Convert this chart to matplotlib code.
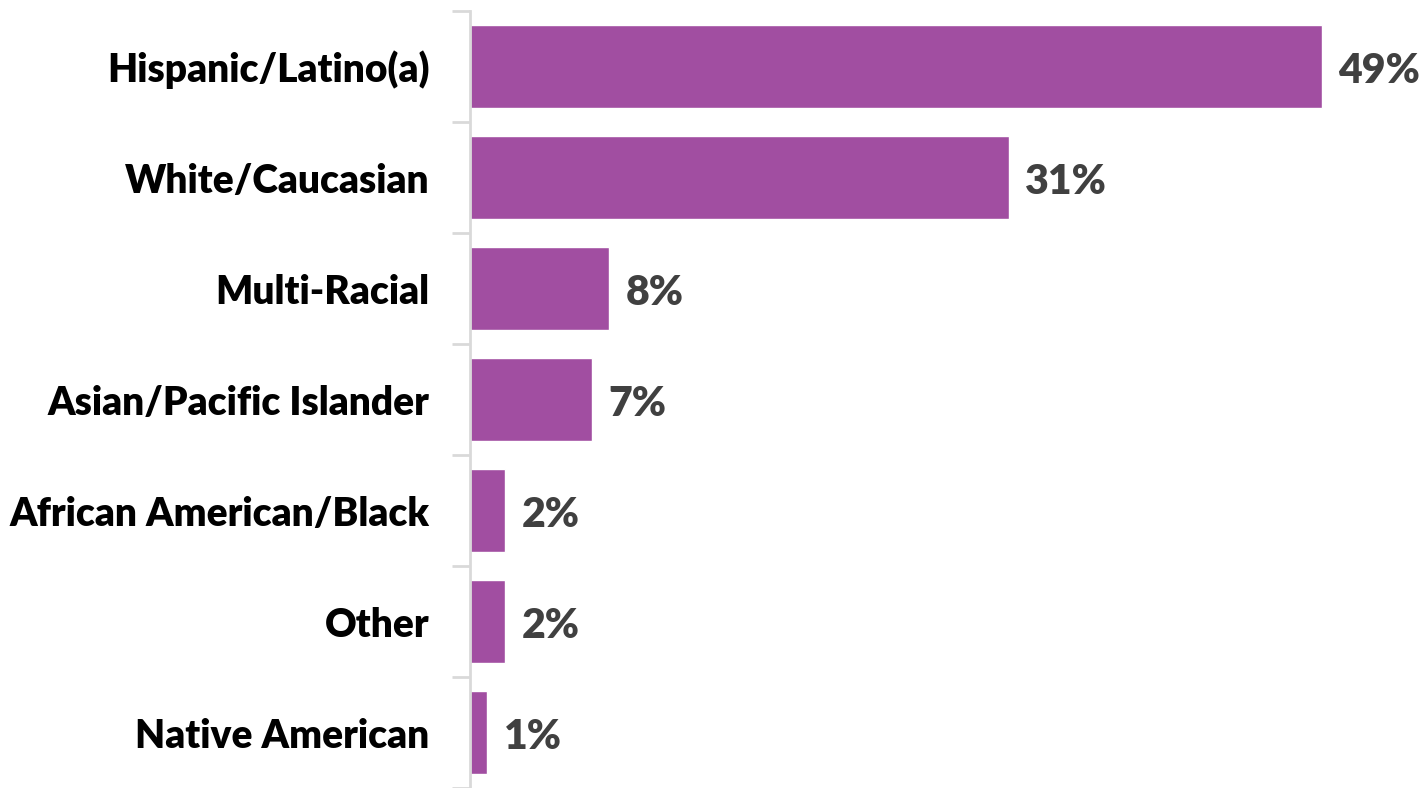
import matplotlib.pyplot as plt
import numpy as np

# 各族裔占比（%）
categories = ["Hispanic/Latino(a)", "White/Caucasian", "Multi-Racial",
              "Asian/Pacific Islander", "African American/Black", "Other",
              "Native American"]
values = [49, 31, 8, 7, 2, 2, 1]
value_labels = ["49%", "31%", "8%", "7%", "2%", "2%", "1%"]

bar_color = "#A14EA1"
label_color = "#404040"

fig = plt.figure(figsize=(14.26, 7.88), dpi=100)
ax = fig.add_axes([470 / 1426, 0, 1 - 470 / 1426, 1 - 11 / 788])

y = np.arange(len(categories))
ax.barh(y, values, height=0.75, color=bar_color, edgecolor="white", linewidth=1)

# 数值标签
for yi, v, txt in zip(y, values, value_labels):
    ax.text(v + 0.95, yi + 0.04, txt, va="center", ha="left", fontsize=29.5,
            fontweight="heavy", color=label_color, family="Lato")

ax.set_xlim(0, 55)
ax.set_ylim(len(categories) - 0.5, -0.5)

# 类别标签放在刻度之间
ax.set_yticks(y)
ax.set_yticklabels(categories, fontsize=28, fontweight="heavy", family="Lato")
ax.tick_params(axis="y", which="major", length=0, pad=29)
ax.set_yticks(np.arange(-0.5, len(categories), 1), minor=True)
ax.tick_params(axis="y", which="minor", length=13, width=2, color="#D9D9D9")
ax.set_xticks([])

for s in ["top", "right", "bottom"]:
    ax.spines[s].set_visible(False)
ax.spines["left"].set_color("#D9D9D9")
ax.spines["left"].set_linewidth(2)

fig.savefig("out.png", dpi=100)
